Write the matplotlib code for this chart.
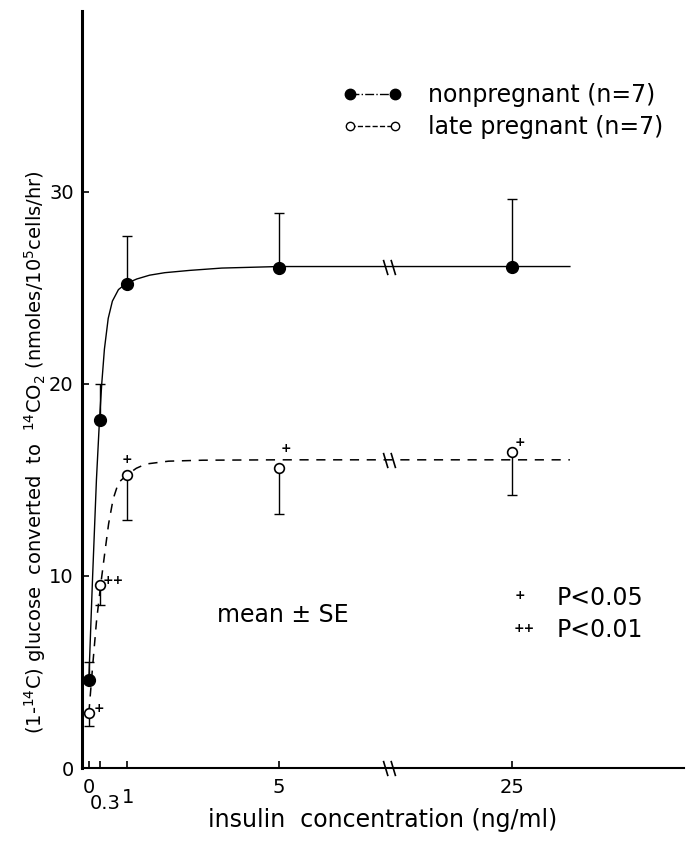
import numpy as np
import matplotlib
matplotlib.use("Agg")
import matplotlib.pyplot as plt
from matplotlib.lines import Line2D
from matplotlib.path import Path
import matplotlib.transforms as mtransforms

# ---------------- data ----------------
insulin = [0, 0.3, 1, 5, 25]
nonpreg_mean = [4.6, 18.1, 25.2, 26.0, 26.1]
nonpreg_se = [0.9, 1.9, 2.5, 2.9, 3.5]
preg_mean = [2.85, 9.5, 15.25, 15.6, 16.45]
preg_se = [0.65, 1.0, 2.35, 2.4, 2.25]
preg_sig = ["+", "++", "+", "+", "+"]

# hand-drawn fitted curves
nonpreg_curve_x = [0, 0.1, 0.2, 0.28, 0.34, 0.41, 0.51, 0.62, 0.78, 0.97, 1.26, 1.6, 2.0, 2.66, 3.5, 5, 25, 30]
nonpreg_curve_y = [4.6, 10.0, 15.0, 18.1, 20.0, 21.8, 23.4, 24.3, 24.9, 25.2, 25.45, 25.65, 25.78, 25.9, 26.02, 26.1, 26.1, 26.1]
preg_curve_x = [0, 0.1, 0.2, 0.31, 0.42, 0.52, 0.64, 0.78, 1.0, 1.25, 1.5, 2.1, 3.0, 5, 25, 30]
preg_curve_y = [2.85, 5.3, 7.6, 9.5, 11.2, 12.7, 14.0, 14.85, 15.25, 15.6, 15.82, 15.97, 16.02, 16.04, 16.04, 16.04]

x_ticks = [0, 0.3, 1, 5, 25]
x_ticklabels = ["0", "0.3", "1", "5", "25"]
y_ticks = [0, 10, 20, 30]
x_break = 14.5

legend_labels = ["nonpregnant (n=7)", "late pregnant (n=7)"]
xlabel = "insulin  concentration (ng/ml)"
ylabel = r"(1-$^{14}$C) glucose  converted  to  $^{14}$CO$_2$ (nmoles/10$^5$cells/hr)"

# ---------------- styling / layout ----------------
sig_offsets = [(7.2, 3.6), (9.5, 3.6), (0.4, 10.8), (5.0, 14.4), (5.8, 6.5)]

plt.rcParams['font.family'] = ['DejaVu Sans']

fig = plt.figure(figsize=(6.88, 8.43), dpi=100)
ax = fig.add_axes([82 / 688, (843 - 768) / 843, 602 / 688, 757 / 843])

# broken x axis: linear up to 5, compressed beyond
k = 0.3066


def fwd(x):
    x = np.asarray(x, dtype=float)
    return np.where(x <= 5, x, 5 + (x - 5) * k)


def inv(p):
    p = np.asarray(p, dtype=float)
    return np.where(p <= 5, p, 5 + (p - 5) / k)


ax.set_xscale('function', functions=(fwd, inv))
ax.set_xlim(-0.18, 39.8)
ax.set_ylim(0, 39.4)

# curves
ax.plot(nonpreg_curve_x, nonpreg_curve_y, color='k', lw=1.0, zorder=2)
ax.plot(preg_curve_x, preg_curve_y, color='k', lw=1.1, ls=(0, (6, 5)), zorder=2)

# error bars (one-sided)
zeros = [0] * len(insulin)
ax.errorbar(insulin, nonpreg_mean, yerr=[zeros, nonpreg_se], fmt='none',
            ecolor='k', elinewidth=1.0, capsize=3.5, capthick=1.0, zorder=3)
ax.errorbar(insulin, preg_mean, yerr=[preg_se, zeros], fmt='none',
            ecolor='k', elinewidth=1.0, capsize=3.5, capthick=1.0, zorder=3)

# markers
ax.plot(insulin, nonpreg_mean, ls='none', marker='o', ms=8.5, mfc='k', mec='k', zorder=4)
ax.plot(insulin, preg_mean, ls='none', marker='o', ms=7, mfc='white', mec='k', mew=1.2, zorder=4)

# significance marks
for xv, yv, s, off in zip(insulin, preg_mean, preg_sig, sig_offsets):
    ax.annotate(s, xy=(xv, yv), xytext=off, textcoords='offset points',
                ha='center', va='center', fontsize=9, fontweight='bold')

# break marks on axis and curves
brk = Path([(-0.8, 1), (-0.2, -1), (0.2, 1), (0.8, -1)],
           [Path.MOVETO, Path.LINETO, Path.MOVETO, Path.LINETO])
brk_y = [0, np.interp(x_break, nonpreg_curve_x, nonpreg_curve_y),
         np.interp(x_break, preg_curve_x, preg_curve_y)]
ax.plot([x_break] * 3, brk_y, ls='none', marker=brk, ms=11, mfc='none',
        mec='k', mew=1.2, clip_on=False, zorder=5)

# spines / ticks
for s in ['top', 'right']:
    ax.spines[s].set_visible(False)
ax.spines['left'].set_linewidth(2.2)
ax.spines['bottom'].set_linewidth(1.5)
ax.set_xticks(x_ticks)
ax.set_xticklabels(x_ticklabels)
ax.set_yticks(y_ticks)
ax.tick_params(axis='both', direction='in', length=5, width=1.2, labelsize=14)
ax.tick_params(axis='x', pad=7)
ax.tick_params(axis='y', pad=6)
ax.minorticks_off()

# shift the crowded "0.3" and "1" labels
labels = ax.get_xticklabels()
shifts = {"0.3": (5 / 100, -16 / 100), "1": (1 / 100, -10 / 100)}
for lab in labels:
    t = lab.get_text()
    if t in shifts:
        dx, dy = shifts[t]
        lab.set_transform(lab.get_transform() + mtransforms.ScaledTranslation(dx, dy, fig.dpi_scale_trans))

ax.set_xlabel(xlabel, fontsize=17)
ax.xaxis.set_label_coords(0.5, -0.069)
ax.xaxis.label.set_verticalalignment('center')
ax.set_ylabel(ylabel, fontsize=14)
ax.yaxis.set_label_coords(-0.078, 0.417)
ax.yaxis.label.set_verticalalignment('center')

# legend
h1 = Line2D([], [], color='k', ls='-.', lw=1.0, marker='o', ms=7.5, mfc='k', mec='k')
h2 = Line2D([], [], color='k', ls='--', lw=1.0, marker='o', ms=6, mfc='white', mec='k', mew=1.0)
ax.legend([h1, h2], legend_labels, numpoints=2, frameon=False, loc='upper left',
          bbox_to_anchor=(0.433, 0.905), handlelength=2.5, handletextpad=1.1,
          labelspacing=0.35, borderpad=0, borderaxespad=0, fontsize=17)

# text annotations
ax.text(0.224, 0.202, "mean \u00b1 SE", transform=ax.transAxes, fontsize=17,
        ha='left', va='center')
ax.text(0.7276, 0.228, "+", transform=ax.transAxes, fontsize=9, fontweight='bold',
        ha='center', va='center')
ax.text(0.789, 0.2246, "P<0.05", transform=ax.transAxes, fontsize=17, ha='left', va='center')
ax.text(0.734, 0.184, "++", transform=ax.transAxes, fontsize=9, fontweight='bold',
        ha='center', va='center')
ax.text(0.789, 0.182, "P<0.01", transform=ax.transAxes, fontsize=17, ha='left', va='center')

fig.savefig("out.png", dpi=100)
